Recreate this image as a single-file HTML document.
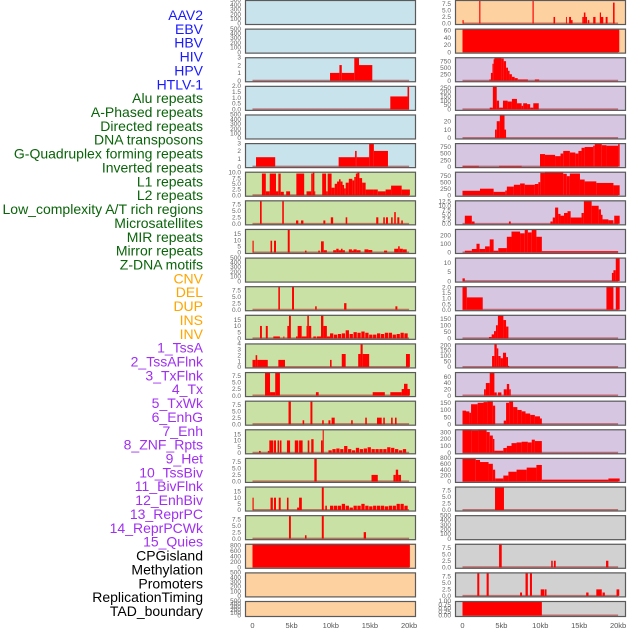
<!DOCTYPE html>
<html><head><meta charset="utf-8"><style>
html,body{margin:0;padding:0;background:#fff;}
svg{display:block;font-family:"Liberation Sans",sans-serif;}
</style></head><body>
<svg id="chart" width="630" height="630" viewBox="0 0 630 630" xmlns="http://www.w3.org/2000/svg"></svg>
<script>
// ---------- data ----------
const labelNames = ["AAV2","EBV","HBV","HIV","HPV","HTLV-1","Alu repeats","A-Phased repeats","Directed repeats","DNA transposons","G-Quadruplex forming repeats","Inverted repeats","L1 repeats","L2 repeats","Low_complexity A/T rich regions","Microsatellites","MIR repeats","Mirror repeats","Z-DNA motifs","CNV","DEL","DUP","INS","INV","1_TssA","2_TssAFlnk","3_TxFlnk","4_Tx","5_TxWk","6_EnhG","7_Enh","8_ZNF_Rpts","9_Het","10_TssBiv","11_BivFlnk","12_EnhBiv","13_ReprPC","14_ReprPCWk","15_Quies","CPGisland","Methylation","Promoters","ReplicationTiming","TAD_boundary"];
const labelGroups = ["v","v","v","v","v","v","r","r","r","r","r","r","r","r","r","r","r","r","r","s","s","s","s","s","c","c","c","c","c","c","c","c","c","c","c","c","c","c","c","k","k","k","k","k"];
const xTickValues = [0,5,10,15,20];
const xTickLabels = ["0","5kb","10kb","15kb","20kb"];

const ticksEmpty = [0,100,200,300,400,500];
const ticks3 = [0,1,2,3];
const ticks2 = [0,0.5,1,1.5,2];
const ticks10 = [0,2.5,5,7.5,10];
const ticks75 = [0,2.5,5,7.5];
const ticks15 = [0,5,10,15];
const ticks4 = [0,1,2,3,4];
const ticks800 = [0,200,400,600,800];
const ticks60 = [0,20,40,60];
const ticks750 = [0,250,500,750];
const ticks250 = [0,50,100,150,200,250];
const ticks20 = [0,10,20];
const ticks125 = [0,2.5,5,7.5,10,12.5];
const ticks200 = [0,100,200];
const ticksZ = [0,5,10];
const ticks150 = [0,50,100,150];
const ticks200b = [0,50,100,150,200];
const ticks300 = [0,100,200,300];
const ticks1 = [0,0.25,0.5,0.75,1];

// left column segments [startKb, endKb, value]
const L2 = [[9.9,11.1,1],[11.1,11.4,2],[11.4,13,1],[13,13.6,3],[13.6,15.3,2]];
const L3 = [[17.6,19.8,1.1],[19.8,20,2]];
const L5 = [[0.45,2.9,1.2],[11,13.1,1.2],[13.1,13.3,2],[13.3,14.9,1.2],[14.9,15.5,3],[15.5,17.3,2]];
const L6 = [[1.2,1.7,9.5],[1.7,2.2,1.7],[2.2,3.0,9.5],[3.0,3.3,1.7],[3.3,3.6,9.5],[3.6,4.0,1.5],[4.3,4.8,1.7],[5.6,6.6,9.5],[6.9,7.5,1.7],[7.5,7.7,9.5],[7.7,7.9,10.3],[7.9,8.0,1.7],[8.9,9.4,9.5],[9.4,9.6,1.7],[9.6,10.1,9.5],[10.1,10.5,3.3],[10.5,10.8,5],[10.8,11.05,6],[11.05,11.25,7],[11.25,11.5,6],[11.5,11.7,4.5],[11.7,11.9,3],[11.9,12.3,5.5],[12.3,12.75,7.2],[12.75,13.0,6.5],[13.0,13.2,8],[13.2,13.4,9.5],[13.4,13.65,10.3],[13.65,14.0,7.5],[14.0,14.45,5.5],[14.45,15.4,2.5],[15.4,16.0,2.5],[16.0,17.0,1.7],[17.0,17.7,2.5],[17.7,19.05,4.2],[19.05,20.1,2.5]];
const L7 = [[0.96,1.17,9],[3.8,4.0,9],[5.56,5.85,1.3],[6.2,6.5,1.3],[9.05,9.3,1.3],[10.0,10.3,2.5],[11.9,12.1,2.5],[15.8,16.07,2.5],[16.7,16.9,2.5],[17.05,17.3,2.5],[17.7,17.9,2.5],[18.1,18.3,4.5],[18.5,18.75,2.5],[19,19.2,1.3]];
const L8 = [[0,0.15,9.5],[2.3,2.5,9.5],[2.75,3.0,9.5],[4.5,4.75,19],[6.7,6.9,1.5],[8.4,8.6,1.5],[8.75,9.1,9],[9.1,9.5,1.8],[10.3,10.7,1.8],[10.7,11.0,3],[11.0,11.3,1.8],[11.3,11.5,3],[11.5,11.8,1.8],[12.3,12.7,2.5],[12.7,12.9,1.5],[12.9,13.3,2.5],[13.3,13.8,1.8],[14.3,14.8,2.5],[14.8,15.3,2],[16.8,17.2,1.5],[18.1,18.6,3],[18.6,18.8,5],[18.8,19.2,3],[19.2,19.7,2.5]];
const L10 = [[3.3,3.5,9],[5.05,5.3,9],[8.0,8.2,1.3],[11.7,12.0,2.5],[18.25,18.5,1.3]];
const L11 = [[0.96,1.2,10],[1.7,1.95,10],[2.66,3.5,1.5],[3.94,4.07,1.5],[4.45,4.66,10],[4.66,4.9,19],[5.56,5.77,1.5],[5.77,6.28,10],[6.28,6.9,1.5],[6.9,7.0,10],[7.0,7.2,19],[7.2,7.5,10],[7.77,8.1,1.5],[8.2,8.75,1.5],[8.75,9.05,19],[9.05,9.5,10],[9.5,9.9,1.5]];
const L11tail = [4,3,3.5,4,6.5,3.5,5,4.5,5.5,4.5,3,3,4,3.5,4.5,4.5,3,3.5,4.5,4];
const L12 = [[0,0.4,1.2],[0.4,0.6,2],[0.6,1.95,1.2],[3.3,4.15,1.2],[9.9,10.1,1.2],[11.4,11.9,2.2],[13.5,13.8,2.2],[13.8,14.07,4],[14.07,14.9,2.2],[19.6,20.1,2.2]];
const L13 = [[1.6,2.24,9],[2.24,2.9,1.3],[2.9,3.5,9],[8.1,8.45,1.3],[15.35,16.9,1.3],[17.6,19.05,1.3],[19.05,19.35,2.5],[19.35,19.8,4.5],[19.8,20.1,2.5]];
const L14 = [[4.6,4.9,9],[6.4,6.6,1.5],[7.4,7.65,9],[8.9,9.1,1.5],[9.7,9.95,1.5],[10.1,10.5,2.5],[12.6,12.8,1.5],[14.4,14.6,2.5],[15.9,16.5,2.5],[16.7,16.9,2.5],[17.7,17.9,2.5],[18.2,18.4,2.5]];
const L15 = [[0.83,1.05,1.5],[1.95,2.15,1.5],[2.15,2.66,10],[2.75,3.0,10],[3.2,3.4,10],[3.5,3.7,10],[4.4,4.8,10],[5.4,5.85,10],[5.95,6.4,10],[7.05,7.26,10],[7.5,7.8,11],[8.75,8.96,10],[8.96,9.1,19]];
const L15tail = [2,3,3.5,3,5.5,3,2,4,3,3.5,4.5,3,3,3,3,4.5,4,3,2,3];
const L16 = [[7.9,8.2,9],[15.2,16.0,2.5],[18.0,18.3,2.5],[18.3,18.6,4.5],[18.6,18.97,2.5]];
const L17 = [[0,0.15,10],[2.3,2.6,10],[2.75,3.0,10],[3.35,3.6,10],[4.4,4.6,10],[5.7,5.95,2],[5.95,6.3,10],[8.85,9.1,19],[9.3,9.5,3.5]];
const L17tail = [3.5,3.5,3.5,5,3.5,2,3.5,3.5,5,3.5,3,3.5,3.5,3.5,3,3.5,3.5,5,5,3.5];
const L18 = [[4.66,4.9,9],[6.7,6.9,1.3],[8.85,9.1,9],[14.2,14.5,2.5]];
const L19 = [[0,20.1,850]];
// right column segments
const R0 = [[0,0.15,1.3],[2.15,2.3,9],[9.0,9.15,9],[11.7,11.9,2.5],[13.3,13.4,2.5],[13.7,13.95,2.5],[13.95,14.15,1.3],[15.4,15.6,2.5],[15.6,15.8,4.2],[15.8,16,2.5],[16.1,16.3,1.3],[16.8,17.1,2.5],[17.65,17.8,4.2],[17.8,18.1,2.5],[18.4,18.65,2.5],[19.35,19.55,8]];
const R1 = [[0,20.15,65]];
const R2 = [[3.45,3.65,50],[3.65,3.85,300],[3.85,4.0,650],[4.0,4.1,820],[4.1,5.0,900],[5.0,5.3,850],[5.3,5.6,750],[5.6,5.85,500],[5.85,6.05,380],[6.05,6.35,250],[6.35,6.7,150],[6.7,7.1,100],[7.1,8.4,50],[9.3,9.85,50]];
const R3 = [[3.5,3.9,20],[3.9,4.4,270],[4.4,4.7,100],[4.7,5.2,20],[5.2,5.8,100],[5.8,6.35,90],[6.35,7.0,120],[7.0,7.6,70],[7.6,7.8,40],[7.8,8.3,70],[8.3,8.7,60],[8.7,9.1,20],[9.1,9.8,70]];
const R4 = [[4.18,4.4,10],[4.4,4.8,20],[4.8,5.4,28],[5.4,5.6,10]];
const R5 = [[0,2.1,30],[4.7,7.6,30],[9.96,10.6,480],[10.6,11.9,450],[11.9,12.6,400],[12.6,12.95,500],[12.95,13.8,600],[13.8,14.5,540],[14.5,14.9,500],[14.9,15.3,600],[15.3,15.7,720],[15.7,16.8,750],[16.8,17.0,800],[17.0,17.9,880],[17.9,18.5,820],[18.5,20.0,800],[20.0,20.2,860]];
const R6 = [[0,2.25,170],[2.25,4.0,250],[4.0,5.5,130],[5.5,5.7,180],[5.7,6.6,330],[6.6,7.4,400],[7.4,8.0,450],[8.0,9.3,400],[9.3,9.75,430],[9.75,10,500],[10,10.6,850],[10.6,12.95,900],[12.95,13.4,820],[13.4,13.8,730],[13.8,15.1,830],[15.1,15.7,600],[15.7,17.2,530],[17.2,19.4,470],[19.4,20.2,380]];
const R7 = [[0.3,1.2,4.5],[1.2,1.55,1.3],[5.97,6.2,1.3],[11.3,11.6,1.3],[11.6,11.9,3.5],[11.9,12.3,9],[12.3,12.6,5.5],[12.6,13.05,4.5],[13.05,13.5,6],[13.5,13.9,7],[13.9,15.3,3.5],[15.3,15.6,6],[15.6,16.6,13],[16.6,17.5,10],[17.5,17.8,8],[17.8,18.0,5],[18.0,18.75,2.5],[18.75,19.4,2],[19.5,20.2,4.5]];
const R8 = [[0.3,1.2,20],[1.2,1.8,40],[1.8,2.2,100],[2.2,2.9,40],[2.9,3.5,70],[3.5,4.0,150],[4.0,4.6,20],[4.6,5.7,50],[5.7,6.3,180],[6.3,7.4,240],[7.4,8.0,220],[8.0,8.4,270],[8.4,8.9,230],[8.9,9.5,270],[9.5,10.2,180],[10.2,20.0,15]];
const R9 = [[0,0.3,1.5],[19.2,19.4,4.5],[19.4,19.7,6],[19.7,20.2,13]];
const R10 = [[0,0.55,2.1],[0.55,2.6,1.1],[18.5,19.4,2.1],[19.7,20.2,2.1]];
const R11 = [[3.4,3.75,10],[3.75,4.05,30],[4.05,4.3,55],[4.3,4.55,100],[4.55,5.25,175],[5.25,5.6,140],[5.6,5.9,90]];
const R12 = [[3.8,4.1,100],[4.1,4.4,215],[4.4,4.6,170],[4.6,4.9,100],[4.9,5.2,80],[5.2,5.6,130],[5.6,5.85,90],[5.85,6.0,10]];
const R13 = [[2.77,3.0,20],[3.0,3.5,40],[3.5,4.1,75],[4.1,4.4,10],[4.55,5.0,10],[5.3,5.7,20],[5.7,6.0,37],[6.0,6.2,20]];
const R14 = [[0,0.45,95],[0.45,0.88,90],[0.88,1.1,80],[1.1,1.95,140],[1.95,2.7,150],[2.7,3.2,155],[3.2,3.9,165],[3.9,4.2,130],[5.3,5.6,25],[5.6,6.0,150],[6.0,6.5,165],[6.5,7.05,120],[7.05,7.6,100],[7.6,8.1,90],[8.1,8.7,75],[8.7,9.3,65],[9.3,9.96,55],[9.96,10.2,40]];
const R15 = [[0,1.2,340],[1.2,2.0,325],[2.0,3.1,340],[3.1,3.5,300],[3.5,3.9,250],[3.9,4.1,200],[4.1,5.25,30],[5.25,5.7,70],[5.7,6.3,100],[6.3,6.95,140],[6.95,7.6,150],[7.6,8.4,160],[8.4,8.9,150],[8.9,9.3,190],[9.3,10.2,170]];
const R16 = [[0,1.7,800],[1.7,2.25,730],[2.25,3.35,660],[3.35,3.9,600],[3.9,4.2,400],[4.2,5.25,100],[5.25,5.9,200],[5.9,6.95,330],[6.95,8.25,400],[8.25,9.5,470],[9.5,10.2,560],[10.2,18.75,60],[18.75,20.2,100]];
const R17 = [[4.18,5.33,9]];
const R19 = [[4.7,5.04,9],[11.4,11.6,2.5],[11.75,11.98,2.5],[18.45,18.75,2.5]];
const R20 = [[1.9,2.16,9],[3.1,3.37,9],[7.4,7.65,1.3],[8.1,8.4,9],[8.67,8.93,9],[10.05,10.5,2.5],[10.57,10.8,2.5],[15.9,16.2,1.3],[17.2,17.9,2.5],[18.0,18.3,1.3],[19.8,20.15,2.5]];
const R21 = [[0,10.2,1]];

const BG = {b:"#c8e3eb", g:"#c9e1a4", o:"#fed1a1", p:"#d6c6e2", k:"#d1d1d1"};
// [column, row, bg, ymax, ticks, segs, tailStart, tail, label format digits]
const panels = [
 [0,0,"b",500,ticksEmpty,null],[0,1,"b",500,ticksEmpty,null],[0,2,"b",3,ticks3,L2],[0,3,"b",2,ticks2,L3,null,null,1],
 [0,4,"b",500,ticksEmpty,null],[0,5,"b",3,ticks3,L5],[0,6,"g",10.3,ticks10,L6,null,null,1],[0,7,"g",9,ticks75,L7,null,null,1],
 [0,8,"g",19,ticks15,L8],[0,9,"g",500,ticksEmpty,null],[0,10,"g",9,ticks75,L10,null,null,1],[0,11,"g",19,ticks15,L11,9.9,L11tail],
 [0,12,"g",4,ticks4,L12],[0,13,"g",9,ticks75,L13,null,null,1],[0,14,"g",9,ticks75,L14,null,null,1],[0,15,"g",19,ticks15,L15,9.7,L15tail],
 [0,16,"g",9,ticks75,L16,null,null,1],[0,17,"g",19,ticks15,L17,9.9,L17tail],[0,18,"g",9,ticks75,L18,null,null,1],[0,19,"o",850,ticks800,L19],
 [0,20,"o",500,ticksEmpty,null],[0,21,"o",500,ticksEmpty,null],
 [1,0,"o",9,ticks75,R0,null,null,1],[1,1,"o",65,ticks60,R1],[1,2,"p",900,ticks750,R2],[1,3,"p",270,ticks250,R3],
 [1,4,"p",28,ticks20,R4],[1,5,"p",900,ticks750,R5],[1,6,"p",900,ticks750,R6],[1,7,"p",13,ticks125,R7,null,null,1],
 [1,8,"p",270,ticks200,R8],[1,9,"p",13,ticksZ,R9],[1,10,"p",2.1,ticks2,R10,null,null,1],[1,11,"p",180,ticks150,R11],
 [1,12,"p",215,ticks200b,R12],[1,13,"p",75,ticks60,R13],[1,14,"p",165,ticks150,R14],[1,15,"p",340,ticks300,R15],
 [1,16,"p",800,ticks800,R16],[1,17,"k",9,ticks75,R17,null,null,1],[1,18,"k",500,ticksEmpty,null],[1,19,"k",9,ticks75,R19,null,null,1],
 [1,20,"k",9,ticks75,R20,null,null,1],[1,21,"k",1,ticks1,R21,null,null,2]
];

// ---------- drawing ----------
const NS = "http://www.w3.org/2000/svg";
const svg = document.getElementById("chart");
function mk(tag, attrs, parent){
  const e = document.createElementNS(NS, tag);
  for (const k in attrs) e.setAttribute(k, attrs[k]);
  (parent||svg).appendChild(e);
  return e;
}
const COLX = [{x0:245,x1:416,o:252.5,s:7.83},{x0:455,x1:626,o:462.5,s:7.78}];
function xScale(col, kb){ return COLX[col].o + kb*COLX[col].s; }
function rowTop(r){ return r===21 ? 601 : r*28.62; }
function rowH(r){ return r===21 ? 16 : 25; }
const LABCOL = {v:"#1a1aff", r:"#0a640a", s:"#ffa500", c:"#a030f0", k:"#000000"};

// labels
labelNames.forEach((n,i)=>{
  const t = mk("text",{x:203,y:(15+i*13.86+5).toFixed(1),"text-anchor":"end","font-size":"14",fill:LABCOL[labelGroups[i]]});
  t.textContent = n;
  
  
});

const defs = mk("defs",{});
panels.forEach((p,pi)=>{
  const [col,row,bg,ymax,ticks,segs,tailStart,tail,dig] = p;
  const C = COLX[col], top = rowTop(row), h = rowH(row);
  const bottom = top + h;
  const yScale = v => bottom - 1.5 - v/ymax*(h-1.5);
  const g = mk("g",{});
  
  
  const cp = mk("clipPath",{id:"cp"+pi},defs);
  mk("rect",{x:C.x0,y:top,width:C.x1-C.x0,height:h},cp);
  const bgr = mk("rect",{x:C.x0,y:top,width:C.x1-C.x0,height:h,fill:BG[bg]},g);
  
  
  const inner = mk("g",{"clip-path":"url(#cp"+pi+")"},g);
  if (segs){
    const bl = mk("line",{x1:xScale(col,0),x2:xScale(col,20),y1:yScale(0),y2:yScale(0),stroke:"rgba(170,30,30,0.55)","stroke-width":"2"},inner);
    
    
    const all = segs.slice();
    if (tail){ tail.forEach((v,i)=>{ all.push([tailStart+i*0.5, tailStart+i*0.5+0.42, v]); }); }
    all.forEach(sg=>{
      const xa = xScale(col,sg[0]), xb = xScale(col,sg[1]);
      const ya = yScale(sg[2]), yb = yScale(0);
      const r = mk("rect",{x:xa.toFixed(2),y:ya.toFixed(2),width:Math.max(0.9,xb-xa).toFixed(2),height:Math.max(0,yb-ya).toFixed(2),fill:"#ff0000"},inner);
      
      
    });
  }
  const br = mk("rect",{x:C.x0+0.5,y:top+0.5,width:C.x1-C.x0-1,height:h-1,fill:"none",stroke:"#5a5a5a","stroke-width":"1.2"},g);
  
  
  ticks.forEach(tv=>{
    const lab = dig ? tv.toFixed(dig) : String(tv);
    const t = mk("text",{x:C.x0-4,y:(yScale(tv)+2.2).toFixed(1),"text-anchor":"end","font-size":"6.5",fill:"#666"},g);
    t.textContent = lab;
    
    
  });
});

// x axes
[0,1].forEach(col=>{
  xTickValues.forEach((v,i)=>{
    const t = mk("text",{x:xScale(col,v).toFixed(1),y:628,"text-anchor":"middle","font-size":"7.5",fill:"#555"});
    t.textContent = xTickLabels[i];
    
    
  });
});
</script>
</body></html>
